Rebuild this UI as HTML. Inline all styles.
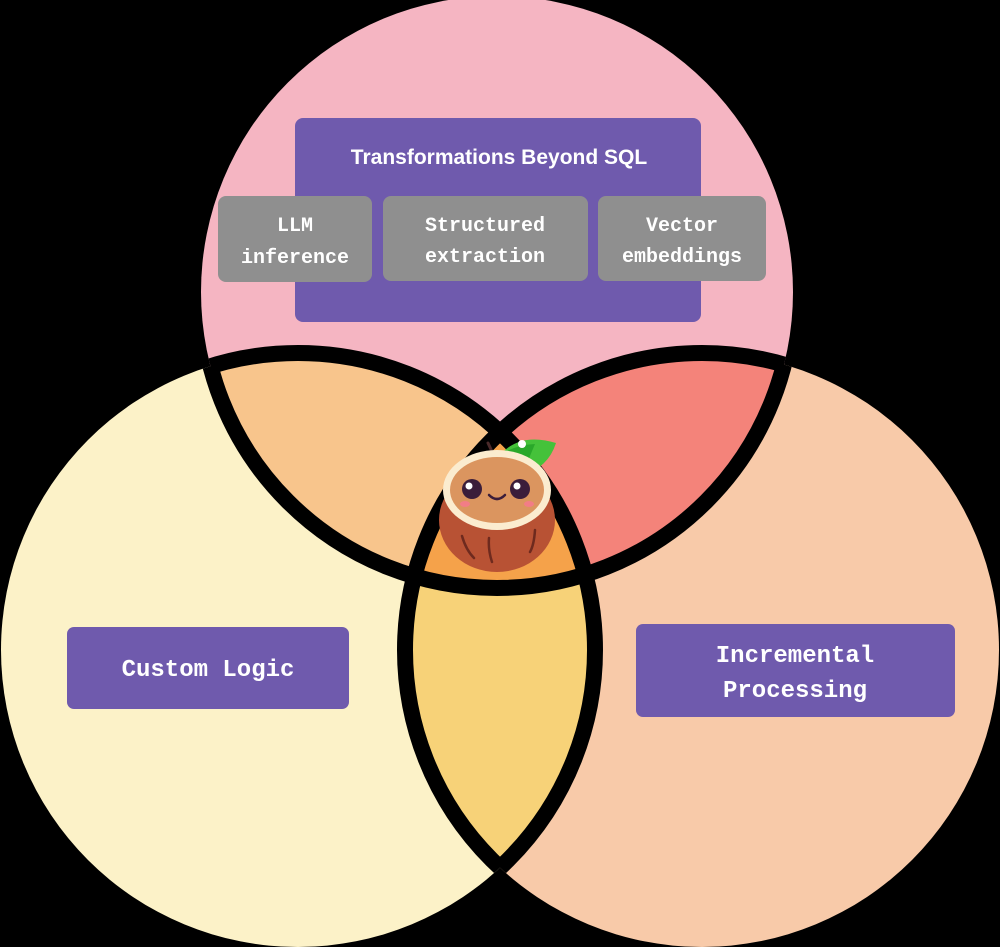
<!DOCTYPE html>
<html><head><meta charset="utf-8"><style>
html,body{margin:0;padding:0;background:#000;}
svg{display:block}
.t{font-family:"Liberation Mono",monospace;font-weight:bold;fill:#fff;text-anchor:middle}
</style></head><body>
<svg width="1000" height="947" viewBox="0 0 1000 947" xmlns="http://www.w3.org/2000/svg">
<defs>
<clipPath id="cT"><circle cx="497" cy="292" r="296"/></clipPath>
<clipPath id="cL"><circle cx="298" cy="650" r="297"/></clipPath>
<clipPath id="cR"><circle cx="702" cy="650" r="297"/></clipPath>
<clipPath id="uLR"><circle cx="298" cy="650" r="297"/><circle cx="702" cy="650" r="297"/></clipPath>
<clipPath id="uTR"><circle cx="497" cy="292" r="296"/><circle cx="702" cy="650" r="297"/></clipPath>
<clipPath id="uTL"><circle cx="497" cy="292" r="296"/><circle cx="298" cy="650" r="297"/></clipPath>
</defs>
<rect width="1000" height="947" fill="#000"/>
<circle cx="497" cy="292" r="296" fill="#f5b5c2"/>
<circle cx="298" cy="650" r="297" fill="#fcf2c8"/>
<circle cx="702" cy="650" r="297" fill="#f8caa9"/>
<g clip-path="url(#cT)">
  <circle cx="298" cy="650" r="297" fill="#f8c58c"/>
  <circle cx="702" cy="650" r="297" fill="#f4837a"/>
</g>
<g clip-path="url(#cL)">
  <circle cx="702" cy="650" r="297" fill="#f7d278"/>
  <g clip-path="url(#cR)"><circle cx="497" cy="292" r="296" fill="#f5a24a"/></g>
</g>
<g fill="none" stroke="#000" stroke-width="16">
<circle cx="497" cy="292" r="296" clip-path="url(#uLR)"/>
<circle cx="298" cy="650" r="297" clip-path="url(#uTR)"/>
<circle cx="702" cy="650" r="297" clip-path="url(#uTL)"/>
</g>
<!-- top boxes -->
<rect x="295" y="118" width="406" height="204" rx="8" fill="#6f5aad"/>
<text x="499" y="164" font-family="Liberation Sans, sans-serif" font-weight="bold" font-size="21" fill="#fff" text-anchor="middle">Transformations Beyond SQL</text>
<rect x="218" y="196" width="154" height="86" rx="8" fill="#8f8f8f"/>
<rect x="383" y="196" width="205" height="85" rx="8" fill="#8f8f8f"/>
<rect x="598" y="196" width="168" height="85" rx="8" fill="#8f8f8f"/>
<text class="t" font-size="20" x="295" y="231">LLM</text>
<text class="t" font-size="20" x="295" y="263">inference</text>
<text class="t" font-size="20" x="485" y="231">Structured</text>
<text class="t" font-size="20" x="485" y="262">extraction</text>
<text class="t" font-size="20" x="682" y="231">Vector</text>
<text class="t" font-size="20" x="682" y="262">embeddings</text>
<!-- side boxes -->
<rect x="67" y="627" width="282" height="82" rx="7" fill="#6f5aad"/>
<text class="t" font-size="24" x="208" y="676">Custom Logic</text>
<rect x="636" y="624" width="319" height="93" rx="7" fill="#6f5aad"/>
<text class="t" font-size="24" x="795" y="662">Incremental</text>
<text class="t" font-size="24" x="795" y="697">Processing</text>
<!-- mascot -->
<line x1="488" y1="443" x2="495" y2="458" stroke="#4a2a2a" stroke-width="3" stroke-linecap="round"/>
<path d="M500 455 Q520 432 556 443 Q548 468 522 475 Z" fill="#45c23a"/>
<path d="M500 455 Q515 445 535 444 L522 475 Z" fill="#2aa82a"/>
<circle cx="522" cy="444" r="4" fill="#fff"/>
<ellipse cx="497" cy="520" rx="58" ry="52" fill="#b85234"/>
<ellipse cx="497" cy="490" rx="54" ry="40" fill="#fbeccf"/>
<ellipse cx="497" cy="490" rx="47" ry="33" fill="#db955f"/>
<circle cx="472" cy="489" r="10" fill="#3b1d3a"/><circle cx="469" cy="486" r="3.5" fill="#fff"/>
<circle cx="520" cy="489" r="10" fill="#3b1d3a"/><circle cx="517" cy="486" r="3.5" fill="#fff"/>
<path d="M489 495 Q497 503 505 495" fill="none" stroke="#3b1d3a" stroke-width="2.5" stroke-linecap="round"/>
<ellipse cx="465" cy="504" rx="5" ry="3" fill="#f27d86"/>
<ellipse cx="529" cy="504" rx="5" ry="3" fill="#f27d86"/>
<path d="M462 536 Q466 550 474 558 M489 538 Q488 550 492 562 M535 530 Q534 545 530 552" fill="none" stroke="#6e2a1e" stroke-width="2.5" stroke-linecap="round"/>
</svg>
</body></html>
